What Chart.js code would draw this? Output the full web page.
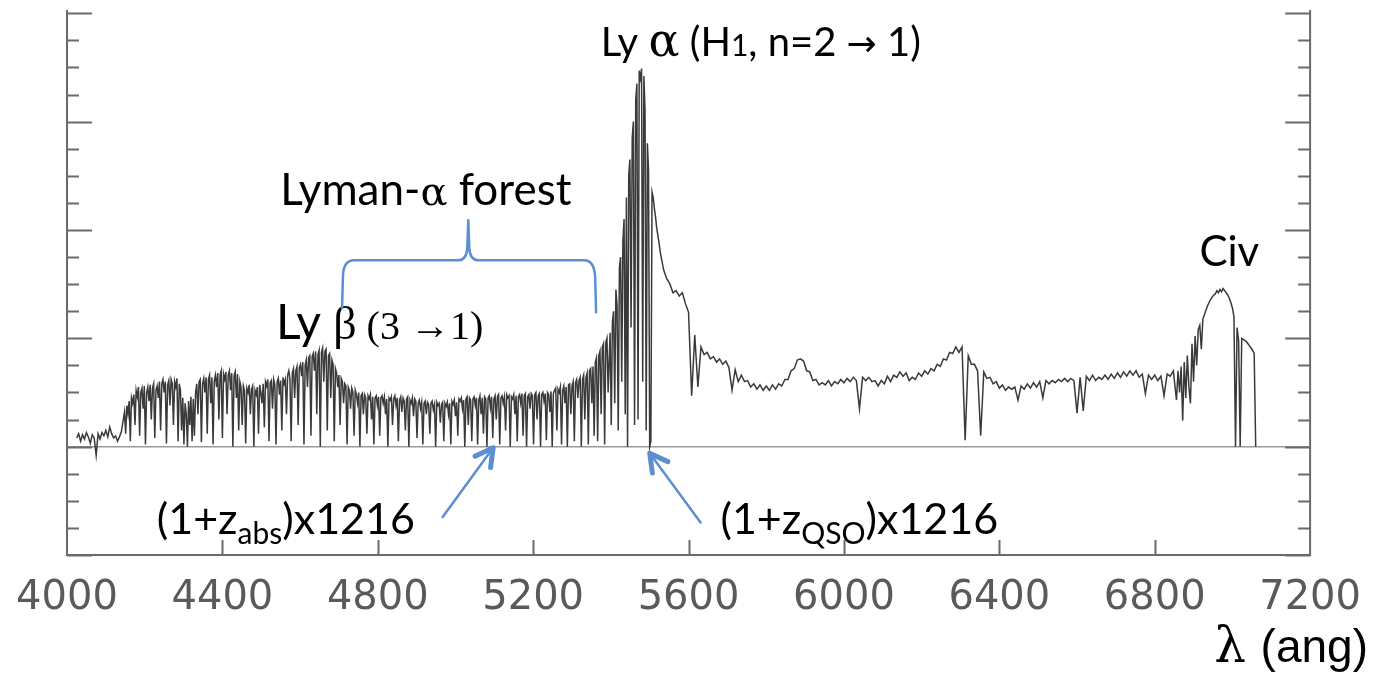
<!DOCTYPE html>
<html>
<head>
<meta charset="utf-8">
<script src="https://cdn.jsdelivr.net/npm/chart.js@4.4.0/dist/chart.umd.min.js"></script>
<style>
  html, body { margin: 0; padding: 0; background: #fff; }
  #wrap { width: 1373px; height: 678px; position: relative; }
</style>
</head>
<body>
<div id="wrap"><canvas id="spectrum"></canvas></div>
<script>
// QSO spectrum, stored per segment: first wavelength (Å), sampling step (Å), flux values
const blueStart = 4025, blueStep = 5;
const blueFlux = [
  0.08, 0.12, 0.05, 0.11, 0.07, 0.13, 0.09, 0.03, 0.11, 0.08,
  -0.08, 0.12, 0.07, 0.13, 0.10, 0.15, 0.09, 0.18, 0.12, 0.08,
  0.10, 0.05, 0.09, 0.14
];

// Lyman-alpha forest, 4145 - 5393 Å
const forestStart = 4145, forestStep = 3;
const forestFlux = [
  0.25, 0.32, 0.12, 0.38, 0.30, 0.42, 0.05, 0.45, 0.40, 0.48,
  0.20, 0.52, 0.46, 0.55, 0.10, 0.50, 0.54, 0.35, 0.56, 0.02,
  0.50, 0.55, 0.42, 0.57, 0.25, 0.54, 0.58, 0.08, 0.52, 0.56,
  0.45, 0.60, 0.15, 0.58, 0.62, 0.50, 0.60, 0.03, 0.57, 0.61,
  0.38, 0.62, 0.58, 0.20, 0.60, 0.55, 0.63, 0.05, 0.58, 0.52,
  0.15, 0.45, 0.02, 0.40, 0.30, 0.00, 0.42, 0.20, 0.46, 0.05,
  0.44, 0.10, 0.50, 0.58, 0.30, 0.60, 0.62, 0.04, 0.58, 0.63,
  0.50, 0.64, 0.12, 0.62, 0.66, 0.40, 0.64, 0.02, 0.60, 0.66,
  0.55, 0.68, 0.25, 0.66, 0.70, 0.08, 0.67, 0.62, 0.69, 0.30,
  0.66, 0.70, 0.52, 0.68, 0.00, 0.65, 0.69, 0.45, 0.67, 0.15,
  0.60, 0.55, 0.20, 0.56, 0.52, 0.03, 0.54, 0.50, 0.57, 0.30,
  0.53, 0.56, 0.00, 0.52, 0.48, 0.55, 0.12, 0.57, 0.50, 0.40,
  0.58, 0.18, 0.60, 0.56, 0.62, 0.05, 0.59, 0.61, 0.35, 0.62,
  0.57, 0.02, 0.60, 0.63, 0.48, 0.61, 0.15, 0.64, 0.58, 0.62,
  0.30, 0.66, 0.70, 0.62, 0.05, 0.68, 0.72, 0.45, 0.70, 0.74,
  0.20, 0.73, 0.76, 0.65, 0.78, 0.02, 0.75, 0.80, 0.55, 0.82,
  0.84, 0.10, 0.83, 0.86, 0.70, 0.88, 0.30, 0.85, 0.89, 0.00,
  0.87, 0.91, 0.60, 0.88, 0.90, 0.15, 0.84, 0.86, 0.45, 0.80,
  0.76, 0.05, 0.72, 0.68, 0.55, 0.66, 0.20, 0.63, 0.60, 0.40,
  0.58, 0.56, 0.02, 0.55, 0.52, 0.35, 0.54, 0.50, 0.10, 0.52,
  0.48, 0.40, 0.50, 0.00, 0.47, 0.49, 0.30, 0.48, 0.45, 0.12,
  0.47, 0.44, 0.48, 0.25, 0.46, 0.02, 0.45, 0.47, 0.38, 0.46,
  0.10, 0.45, 0.47, 0.40, 0.46, 0.30, 0.44, 0.00, 0.45, 0.43,
  0.46, 0.20, 0.44, 0.47, 0.38, 0.45, 0.05, 0.43, 0.46, 0.32,
  0.45, 0.42, 0.15, 0.44, 0.46, 0.00, 0.43, 0.40, 0.45, 0.28,
  0.44, 0.42, 0.08, 0.40, 0.43, 0.35, 0.41, 0.02, 0.40, 0.42,
  0.30, 0.41, 0.39, 0.12, 0.40, 0.42, 0.34, 0.39, 0.00, 0.41,
  0.38, 0.40, 0.22, 0.39, 0.41, 0.05, 0.40, 0.37, 0.41, 0.30,
  0.40, 0.02, 0.42, 0.39, 0.43, 0.28, 0.41, 0.10, 0.44, 0.42,
  0.45, 0.35, 0.43, 0.00, 0.44, 0.46, 0.20, 0.45, 0.43, 0.05,
  0.44, 0.46, 0.38, 0.45, 0.02, 0.43, 0.47, 0.30, 0.45, 0.12,
  0.46, 0.44, 0.00, 0.45, 0.47, 0.36, 0.46, 0.08, 0.44, 0.47,
  0.25, 0.46, 0.48, 0.02, 0.45, 0.47, 0.40, 0.46, 0.15, 0.48,
  0.45, 0.47, 0.00, 0.46, 0.44, 0.48, 0.30, 0.47, 0.05, 0.46,
  0.48, 0.40, 0.49, 0.10, 0.47, 0.49, 0.00, 0.46, 0.48, 0.35,
  0.49, 0.47, 0.02, 0.48, 0.50, 0.25, 0.47, 0.49, 0.00, 0.48,
  0.50, 0.42, 0.49, 0.06, 0.50, 0.48, 0.32, 0.51, 0.00, 0.49,
  0.52, 0.54, 0.15, 0.53, 0.50, 0.55, 0.02, 0.52, 0.56, 0.40,
  0.55, 0.00, 0.57, 0.58, 0.30, 0.56, 0.60, 0.05, 0.59, 0.62,
  0.45, 0.61, 0.64, 0.00, 0.62, 0.66, 0.25, 0.64, 0.68, 0.02,
  0.70, 0.72, 0.40, 0.74, 0.10, 0.78, 0.82, 0.05, 0.84, 0.88,
  0.30, 0.92, 0.95, 0.02, 0.96, 1.00, 0.50
];

// Lyman-alpha emission peak
const lyaStart = 5398, lyaStep = 3;
const lyaFlux = [
  1.05, 0.20, 1.15, 1.25, 0.40, 1.45, 1.30, 0.15, 1.65, 1.75,
  0.60, 1.90, 2.10, 0.30, 2.30, 0.00, 2.50, 2.65, 1.10, 2.85,
  3.00, 0.20, 3.20, 3.35, 0.25, 3.47, 3.40, 3.49, 0.60, 3.42,
  3.10, 0.15, 2.80, 2.55, 0.00, 0.05, 2.35, 2.30, 2.20, 2.12,
  2.02, 1.95, 1.88, 1.80, 1.74
];

// red continuum with metal absorbers
const redStart = 5536, redStep = 8;
const redFlux = [
  1.63, 1.55, 1.50, 1.42, 1.44, 1.39, 1.42, 1.32, 1.24, 0.47,
  1.03, 0.55, 0.92, 0.85, 0.87, 0.81, 0.83, 0.78, 0.81, 0.76,
  0.79, 0.73, 0.52, 0.71, 0.60, 0.66, 0.60, 0.61, 0.55, 0.58,
  0.53, 0.57, 0.52, 0.56, 0.52, 0.57, 0.53, 0.58, 0.56, 0.62,
  0.62, 0.70, 0.72, 0.80, 0.81, 0.79, 0.70, 0.69, 0.61, 0.62,
  0.57, 0.59, 0.57, 0.61, 0.56, 0.60, 0.58, 0.62, 0.59, 0.63,
  0.60, 0.64, 0.61, 0.35, 0.64, 0.61, 0.64, 0.60, 0.61, 0.56,
  0.61, 0.58, 0.65, 0.60, 0.66, 0.64, 0.69, 0.65, 0.68, 0.61,
  0.64, 0.62, 0.68, 0.65, 0.70, 0.67, 0.72, 0.70, 0.76, 0.74,
  0.81, 0.80, 0.87, 0.86, 0.92, 0.87, 0.92, 0.06, 0.84, 0.76,
  0.76, 0.70, 0.10, 0.69, 0.63, 0.64, 0.58, 0.60, 0.54, 0.57,
  0.52, 0.55, 0.53, 0.55, 0.43, 0.56, 0.53, 0.58, 0.54, 0.59,
  0.55, 0.60, 0.45, 0.61, 0.58, 0.61, 0.59, 0.62, 0.60, 0.63,
  0.60, 0.63, 0.61, 0.31, 0.64, 0.33, 0.65, 0.61, 0.66, 0.61,
  0.64, 0.62, 0.66, 0.62, 0.67, 0.63, 0.68, 0.64, 0.69, 0.65,
  0.70, 0.66, 0.70, 0.64, 0.67, 0.49, 0.66, 0.62, 0.66, 0.61,
  0.65, 0.47, 0.67, 0.65, 0.70, 0.43
];

// C IV emission line and its absorbers
const civStart = 6860, civStep = 4;
const civFlux = [
  0.70, 0.50, 0.74, 0.24, 0.78, 0.45, 0.84, 0.55, 0.40, 0.95,
  0.60, 1.02, 0.75, 1.08, 1.12, 0.90, 1.18, 1.22, 1.26, 1.30,
  1.33, 1.36, 1.38, 1.40, 1.41, 1.44, 1.42, 1.45, 1.43, 1.46,
  1.44, 1.42, 1.40, 1.37, 1.33, 1.28, 1.20, 0.00, 1.10, 0.98,
  0.00, 1.00, 0.99, 0.98, 0.97, 0.95, 0.93, 0.91, 0.89, 0.86,
  0.00
];

const xTicks = [4000, 4400, 4800, 5200, 5600, 6000, 6400, 6800, 7200];
const yMin = -1, yMax = 4.03;

function segment(start, step, flux) {
  return flux.map((f, i) => ({ x: start + i * step, y: f }));
}

const points = [].concat(
  segment(blueStart, blueStep, blueFlux),
  segment(forestStart, forestStep, forestFlux),
  segment(lyaStart, lyaStep, lyaFlux),
  segment(redStart, redStep, redFlux),
  segment(civStart, civStep, civFlux)
);

const SANS = 'Lato, "Open Sans", sans-serif';
const SERIF = '"Liberation Serif", "DejaVu Serif", serif';
const GREEK = '"DejaVu Serif", serif';
const BLUE = '#5b8fd0';

// text runs placed at data coordinates (wavelength, flux) of their baseline start
const notes = [
  { at: [5374, 3.61], runs: [
    { t: 'Ly ', f: '40px ' + SANS },
    { t: 'α', f: '46px ' + GREEK },
    { t: ' (H', f: '40px ' + SANS },
    { t: '1', f: '30px ' + SANS },
    { t: ', n=2 ', f: '40px ' + SANS },
    { t: '→', f: '36px "DejaVu Sans"' },
    { t: ' 1)', f: '40px ' + SANS }
  ] },
  { at: [4549, 2.23], runs: [
    { t: 'Lyman-', f: '44px ' + SANS },
    { t: 'α', f: '40px ' + GREEK },
    { t: ' forest', f: '44px ' + SANS }
  ] },
  { at: [4538, 0.99], runs: [
    { t: 'Ly ', f: '48px ' + SANS },
    { t: 'β', f: '46px ' + SERIF },
    { t: ' (3 →1)', f: '40px ' + SERIF }
  ] },
  { at: [6915, 1.67], runs: [{ t: 'Civ', f: '42px ' + SANS }] },
  { at: [4231, -0.81], runs: [
    { t: '(1+z', f: '43px ' + SANS },
    { t: 'abs', f: '30px ' + SANS, dy: 10 },
    { t: ')x1216', f: '43px ' + SANS }
  ] },
  { at: [5682, -0.81], runs: [
    { t: '(1+z', f: '43px ' + SANS },
    { t: 'QSO', f: '30px ' + SANS, dy: 10 },
    { t: ')x1216', f: '43px ' + SANS }
  ] }
];

// arrows: tail -> head, in (wavelength, flux)
const arrows = [
  [[4967, -0.65], [5097, -0.01]],
  [[5631, -0.70], [5500, -0.06]]
];

// curly brace over the forest: left leg, centre tip, right leg
const brace = { left: 4708, right: 5362, centre: 5033, bar: 1.72, tip: 2.09, legL: 1.28, legR: 1.24 };

function drawRuns(ctx, x, y, runs) {
  runs.forEach(r => {
    ctx.font = r.f;
    ctx.fillText(r.t, x, y + (r.dy || 0));
    x += ctx.measureText(r.t).width;
  });
}

const frame = {
  id: 'frame',
  beforeDatasetsDraw(chart) {
    const { ctx, chartArea: a, scales: { y } } = chart;
    ctx.save();
    ctx.strokeStyle = '#9a9a9a';
    ctx.lineWidth = 1.5;
    ctx.beginPath();
    ctx.moveTo(a.left, y.getPixelForValue(0));
    ctx.lineTo(a.right, y.getPixelForValue(0));
    ctx.stroke();
    ctx.restore();
  },
  afterDatasetsDraw(chart) {
    const { ctx, chartArea: a, scales: { x, y } } = chart;
    ctx.save();
    ctx.strokeStyle = '#6a6a6a';
    ctx.lineWidth = 2;
    ctx.beginPath();
    // left, bottom and right frame (no top edge)
    ctx.moveTo(a.left, a.top);
    ctx.lineTo(a.left, a.bottom);
    ctx.lineTo(a.right, a.bottom);
    ctx.lineTo(a.right, a.top);
    // inward y ticks on both sides, major at integers
    for (let v = -1; v <= 4; v += 0.25) {
      const py = Math.round(y.getPixelForValue(v)) + 0.5;
      const len = Number.isInteger(v) ? 25 : 12;
      ctx.moveTo(a.left, py); ctx.lineTo(a.left + len, py);
      ctx.moveTo(a.right, py); ctx.lineTo(a.right - len, py);
    }
    // inward x ticks
    xTicks.slice(1, -1).forEach(v => {
      const px = Math.round(x.getPixelForValue(v)) + 0.5;
      ctx.moveTo(px, a.bottom); ctx.lineTo(px, a.bottom - 15);
    });
    ctx.stroke();

    // annotations
    ctx.fillStyle = '#000';
    ctx.textBaseline = 'alphabetic';
    notes.forEach(n => drawRuns(ctx, x.getPixelForValue(n.at[0]), y.getPixelForValue(n.at[1]), n.runs));

    ctx.strokeStyle = BLUE;
    ctx.lineCap = 'round';
    ctx.lineJoin = 'round';
    arrows.forEach(([t, h]) => {
      const x0 = x.getPixelForValue(t[0]), y0 = y.getPixelForValue(t[1]);
      const x1 = x.getPixelForValue(h[0]), y1 = y.getPixelForValue(h[1]);
      const ang = Math.atan2(y1 - y0, x1 - x0);
      ctx.lineWidth = 2.5;
      ctx.beginPath();
      ctx.moveTo(x0, y0); ctx.lineTo(x1, y1);
      ctx.stroke();
      ctx.lineWidth = 5;
      ctx.beginPath();
      ctx.moveTo(x1 - 20 * Math.cos(ang - 0.5), y1 - 20 * Math.sin(ang - 0.5));
      ctx.lineTo(x1, y1);
      ctx.lineTo(x1 - 20 * Math.cos(ang + 0.5), y1 - 20 * Math.sin(ang + 0.5));
      ctx.stroke();
    });

    const bl = x.getPixelForValue(brace.left), br = x.getPixelForValue(brace.right);
    const bc = x.getPixelForValue(brace.centre), yb = y.getPixelForValue(brace.bar);
    const yt = y.getPixelForValue(brace.tip);
    ctx.lineWidth = 2.5;
    ctx.beginPath();
    ctx.moveTo(bl, y.getPixelForValue(brace.legL));
    ctx.lineTo(bl + 1, yb + 14);
    ctx.quadraticCurveTo(bl + 2, yb, bl + 12, yb);
    ctx.lineTo(bc - 10, yb);
    ctx.quadraticCurveTo(bc - 2, yb, bc - 1, yb - 12);
    ctx.lineTo(bc, yt);
    ctx.lineTo(bc + 1, yb - 12);
    ctx.quadraticCurveTo(bc + 2, yb, bc + 10, yb);
    ctx.lineTo(br - 12, yb);
    ctx.quadraticCurveTo(br - 2, yb, br - 1, yb + 16);
    ctx.lineTo(br, y.getPixelForValue(brace.legR));
    ctx.stroke();

    // axis title
    ctx.textAlign = 'right';
    const unit = ' (ang)';
    ctx.font = '46px "Liberation Sans"';
    const uw = ctx.measureText(unit).width;
    ctx.fillText(unit, 1368, 662);
    ctx.font = '50px ' + GREEK;
    ctx.fillText('λ', 1366 - uw, 662);
    ctx.restore();
  }
};

new Chart(document.getElementById('spectrum'), {
  type: 'line',
  data: {
    datasets: [{
      data: points,
      borderColor: '#3a3a3a',
      borderWidth: 1.5,
      pointRadius: 0,
      tension: 0,
      fill: false
    }]
  },
  options: {
    responsive: true,
    maintainAspectRatio: false,
    animation: false,
    parsing: false,
    layout: { padding: { left: 67, right: 58, top: 10, bottom: 43 } },
    plugins: { legend: { display: false }, tooltip: { enabled: false } },
    scales: {
      x: {
        type: 'linear',
        min: 4000,
        max: 7200,
        afterBuildTicks: s => { s.ticks = xTicks.map(v => ({ value: v })); },
        grid: { display: false },
        border: { display: false },
        ticks: {
          color: '#5a5a5a',
          font: { family: '"DejaVu Sans"', size: 40 },
          padding: 12,
          maxRotation: 0,
          autoSkip: false,
          callback: v => String(v)
        }
      },
      y: {
        display: false,
        min: yMin,
        max: yMax
      }
    }
  },
  plugins: [frame]
});
</script>
</body>
</html>
